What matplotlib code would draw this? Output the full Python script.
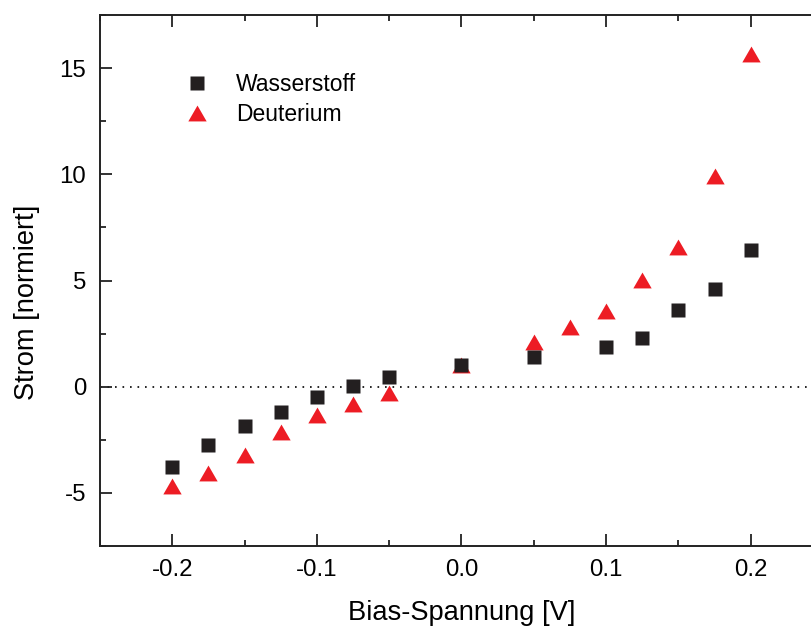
import numpy as np
import matplotlib
matplotlib.use("Agg")
import matplotlib.pyplot as plt
from matplotlib.ticker import MultipleLocator, FormatStrFormatter

plt.rcParams['font.family'] = ['Liberation Sans', 'DejaVu Sans']
plt.rcParams['axes.unicode_minus'] = False

# bias voltage [V] and normalised current
bias_h = [-0.2, -0.175, -0.15, -0.125, -0.1, -0.075, -0.05, 0.0,
          0.05, 0.1, 0.125, 0.15, 0.175, 0.2]
strom_h = [-3.77, -2.75, -1.83, -1.19, -0.47, 0.01, 0.44, 1.02,
           1.39, 1.89, 2.27, 3.63, 4.6, 6.45]

bias_d = [-0.2, -0.175, -0.15, -0.125, -0.1, -0.075, -0.05, 0.0,
          0.05, 0.075, 0.1, 0.125, 0.15, 0.175, 0.2]
strom_d = [-4.66, -4.06, -3.2, -2.14, -1.32, -0.81, -0.31, 1.0,
           2.09, 2.79, 3.55, 5.04, 6.56, 9.9, 15.68]

labels = ['Wasserstoff', 'Deuterium']

# equilateral triangle marker
tri = [(0, 0.866), (-1, -0.866), (1, -0.866)]

fig = plt.figure(figsize=(8.12, 6.35), dpi=100)
ax = fig.add_axes([100 / 812, 89 / 635, 723 / 812, 531 / 635])

ax.axhline(0, color='black', lw=1.2, ls=(0, (1, 3.5)), zorder=1)

ax.plot(bias_d, strom_d, ls='none', marker=tri, ms=13.2, mec='none',
        color='#ed1c24', label=labels[1], zorder=2)
ax.plot(bias_h, strom_h, ls='none', marker='s', ms=9.6, mec='none',
        color='#231f20', label=labels[0], zorder=3)

ax.set_xlim(-0.25, 0.25)
ax.set_ylim(-7.5, 17.5)
ax.xaxis.set_major_locator(MultipleLocator(0.1))
ax.xaxis.set_minor_locator(MultipleLocator(0.05))
ax.yaxis.set_major_locator(MultipleLocator(5))
ax.yaxis.set_minor_locator(MultipleLocator(2.5))
ax.xaxis.set_major_formatter(FormatStrFormatter('%.1f'))

ax.tick_params(which='both', direction='in', top=True, right=True,
               width=1.3, color='#222222')
ax.tick_params(which='major', length=8.4, labelsize=17.3)
ax.tick_params(axis='x', which='major', pad=9)
ax.tick_params(axis='y', which='major', pad=10)
ax.tick_params(which='minor', length=4.3)
for sp in ax.spines.values():
    sp.set_linewidth(1.4)
    sp.set_color('#222222')

ax.set_xlabel('Bias-Spannung [V]', fontsize=19.6, labelpad=14)
ax.set_ylabel('Strom [normiert]', fontsize=19.6)
ax.yaxis.set_label_coords(-0.083, 0.458)

h, l = ax.get_legend_handles_labels()
ax.legend(h[::-1], l[::-1], loc='upper left', frameon=False, fontsize=16.5,
          bbox_to_anchor=(0.082, 0.930), handletextpad=0.95,
          labelspacing=0.3, handlelength=1.5)

fig.savefig('out.png', dpi=100)
